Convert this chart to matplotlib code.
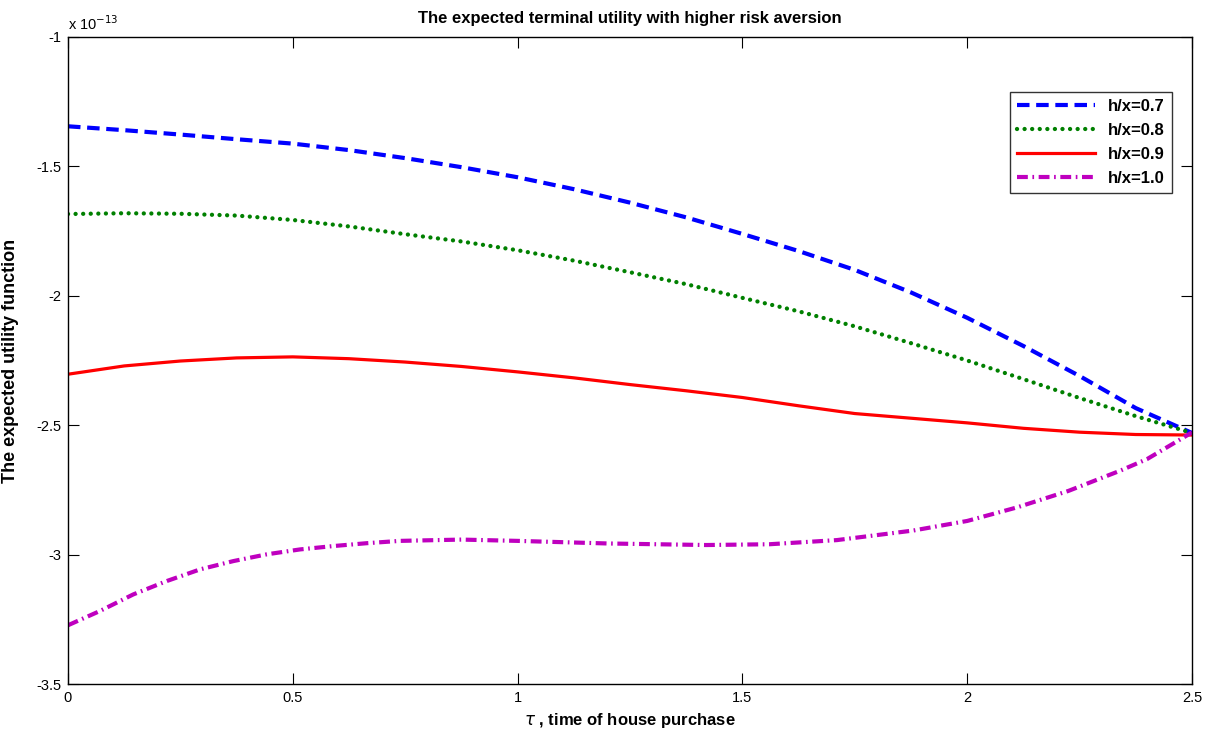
import matplotlib
matplotlib.use('Agg')
import matplotlib.pyplot as plt

plt.rcParams['font.family'] = ['Liberation Sans', 'DejaVu Sans']

# - - - - - - - - - - Data (values in units of 1e-13) - - - - - - - - - - #
tau = [0, 0.125, 0.25, 0.375, 0.5, 0.625, 0.75, 0.875, 1.0, 1.125, 1.25,
       1.375, 1.5, 1.625, 1.75, 1.875, 2.0, 2.125, 2.25, 2.375, 2.5]

u_07 = [-1.345, -1.36, -1.377, -1.395, -1.412, -1.437, -1.468, -1.503, -1.542, -1.588, -1.64,
        -1.697, -1.761, -1.827, -1.90, -1.987, -2.085, -2.194, -2.31, -2.434, -2.53]
u_08 = [-1.684, -1.681, -1.683, -1.69, -1.707, -1.732, -1.762, -1.79, -1.824, -1.864, -1.909,
        -1.955, -2.008, -2.06, -2.118, -2.183, -2.25, -2.322, -2.395, -2.465, -2.53]
u_09 = [-2.303, -2.271, -2.252, -2.24, -2.236, -2.243, -2.256, -2.273, -2.294, -2.317, -2.343,
        -2.367, -2.393, -2.425, -2.455, -2.473, -2.491, -2.512, -2.527, -2.536, -2.538]

tau_10 = [0, 0.071, 0.145, 0.22, 0.294, 0.368, 0.442, 0.516, 0.59, 0.664, 0.738, 0.875,
          1.0, 1.2, 1.42, 1.56, 1.71, 1.88, 2.0, 2.11, 2.225, 2.34, 2.4, 2.5]
u_10 = [-3.273, -3.218, -3.154, -3.102, -3.057, -3.025, -2.999, -2.98, -2.967, -2.956, -2.947,
        -2.942, -2.947, -2.957, -2.963, -2.96, -2.944, -2.907, -2.87, -2.818, -2.754, -2.676,
        -2.631, -2.528]

labels = ['h/x=0.7', 'h/x=0.8', 'h/x=0.9', 'h/x=1.0']

# - - - - - - - - - - Plot - - - - - - - - - - #
fig = plt.figure(figsize=(12.18, 7.33), dpi=100)
ax = fig.add_axes([68 / 1218, 49 / 733, 1124 / 1218, 647 / 733])

ax.plot(tau, u_07, color='#0000ff', linestyle=(0, (3, 1.6)), linewidth=3.0, label=labels[0])
ax.plot(tau, u_08, color='#008000', linestyle=(0, (0.01, 1.75)), linewidth=3.1,
        dash_capstyle='round', label=labels[1])
ax.plot(tau, u_09, color='#ff0000', linestyle='-', linewidth=2.3, label=labels[2])
ax.plot(tau_10, u_10, color='#bf00bf', linestyle=(0, (2.6, 1.1, 0.4, 1.1)), linewidth=3.0,
        label=labels[3])

ax.set_xlim(0, 2.5)
ax.set_ylim(-3.5, -1)
ax.set_xticks([0, 0.5, 1, 1.5, 2, 2.5])
ax.set_xticklabels(['0', '0.5', '1', '1.5', '2', '2.5'])
ax.set_yticks([-3.5, -3, -2.5, -2, -1.5, -1])
ax.set_yticklabels(['-3.5', '-3', '-2.5', '-2', '-1.5', '-1'])
ax.tick_params(direction='in', length=8, width=0.8, top=True, right=True,
               labelsize=10.5, pad=5)
for s in ax.spines.values():
  s.set_linewidth(1.0)

ax.text(0, 1.006, r'x 10$^{-13}$', transform=ax.transAxes, fontsize=10.5,
        ha='left', va='bottom')

ax.set_title('The expected terminal utility with higher risk aversion',
             fontsize=12, fontweight='bold', pad=10)
ax.set_xlabel(r'$\tau$ , time of house purchase', fontsize=12, fontweight='bold', labelpad=4)
ax.set_ylabel('The expected utility function', fontsize=13, fontweight='bold', labelpad=12)

leg = ax.legend(loc='upper right', bbox_to_anchor=(0.982, 0.915), borderaxespad=0,
                fancybox=False, edgecolor='black', handlelength=4.7,
                prop={'weight': 'bold', 'size': 12}, labelspacing=0.55)
leg.get_frame().set_linewidth(1.0)

fig.savefig('out.png', dpi=100)
